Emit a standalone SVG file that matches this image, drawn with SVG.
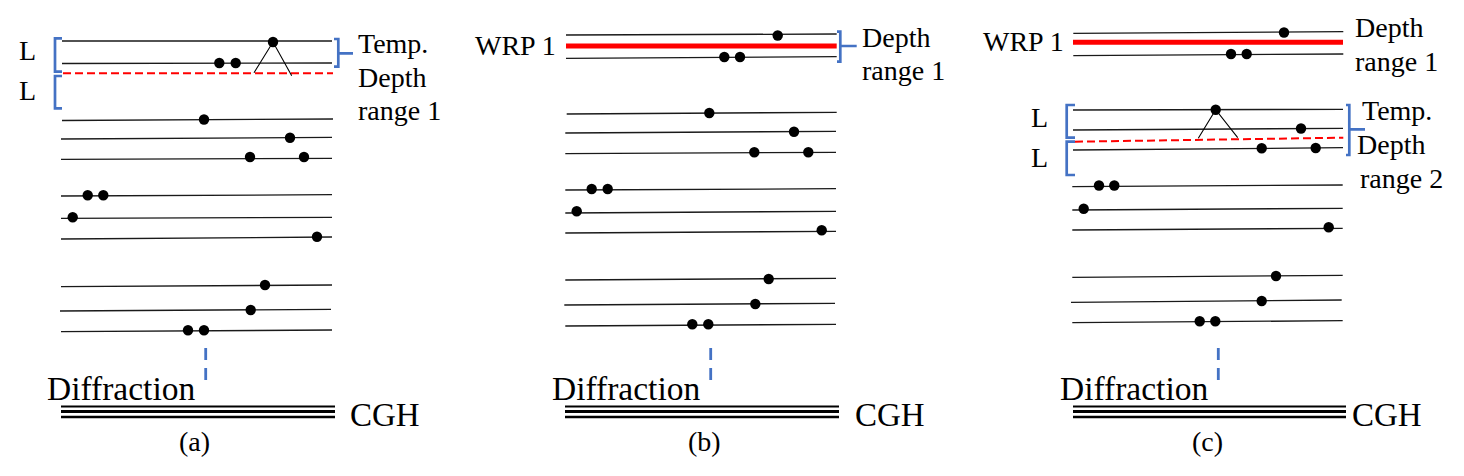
<svg xmlns="http://www.w3.org/2000/svg" width="1464" height="476" viewBox="0 0 1464 476">
<style>
.t{font-family:"Liberation Serif","Times New Roman",serif;font-size:28px;fill:#000}
.big{font-size:33.5px}
.cg{font-size:33px}
.ln{stroke:#1a1a1a;stroke-width:1.3;fill:none}
.tri{stroke:#000;stroke-width:1.1;fill:none}
.br{stroke:#4472C4;stroke-width:2.7;fill:none}
.vd{stroke:#4472C4;stroke-width:2.8;stroke-dasharray:12 8}
.rd{stroke:#FF0000;stroke-width:2;stroke-dasharray:8 4;fill:none}
.wrp{stroke:#FF0000;stroke-width:5}
.cgh{stroke:#000;fill:none}
.dot{fill:#000}
</style>
<rect width="1464" height="476" fill="#fff"/>

<g id="panel-a">
  <g id="a-lines">
    <path class="ln" d="M62 41H332M62 63.5L332 63M62 120.5L333 119M61 139L332 137.3M61 159.3L332 158.3M61 196L332 194.7M61 218.3L332 217.3M61 239L332 237M61 286.7L332 285M60 311L331 309.3M61 331.7L332 330"/>
    <path class="rd" d="M63 73.3H333"/>
    <path class="tri" d="M254 72.7L273 42L291.7 75.7"/>
  </g>
  <g id="a-dots" class="dot">
    <circle cx="273" cy="42" r="5.2"/><circle cx="219.3" cy="63" r="5.2"/><circle cx="235.7" cy="63" r="5.2"/>
    <circle cx="204" cy="119.5" r="5.2"/><circle cx="290" cy="137.7" r="5.2"/>
    <circle cx="250" cy="157" r="5.2"/><circle cx="304" cy="157" r="5.2"/>
    <circle cx="87.7" cy="195.3" r="5.2"/><circle cx="103.3" cy="195.3" r="5.2"/>
    <circle cx="72.7" cy="217.3" r="5.2"/><circle cx="317" cy="236.7" r="5.2"/>
    <circle cx="265" cy="285" r="5.2"/><circle cx="250.7" cy="310" r="5.2"/>
    <circle cx="188" cy="330.3" r="5.2"/><circle cx="204" cy="330.3" r="5.2"/>
  </g>
  <g id="a-brackets">
    <path class="br" d="M62 38.3H55V71.7H62M62 76H55V108.3H62M334 39H338.3V66.7H334M338.3 53.3H353"/>
  </g>
  <g id="a-cgh">
    <path class="cgh" stroke-width="2.2" d="M61 406.5H335"/>
    <path class="cgh" stroke-width="3.2" d="M61 411.5H335"/>
    <path class="cgh" stroke-width="2.5" d="M61 417H335"/>
    <path class="vd" d="M205.7 348V380"/>
  </g>
  <g id="a-text">
    <text class="t" x="19" y="60">L</text>
    <text class="t" x="19" y="100">L</text>
    <text class="t" x="358" y="53">Temp.</text>
    <text class="t" x="358" y="87">Depth</text>
    <text class="t" x="358" y="120">range 1</text>
    <text class="t big" x="47" y="400">Diffraction</text>
    <text class="t cg" x="350" y="426">CGH</text>
    <text class="t" x="179" y="451">(a)</text>
  </g>
</g>

<g id="panel-b">
  <g id="b-lines">
    <path class="ln" d="M566 35L836.7 34M566 58.3L836.7 56.7M566.7 114L836.7 112.3M565.3 133L836 131.3M565.3 153.7L836 152.3M565.3 190L836 188.7M565.3 213L836 211.3M565.3 233L836 231.3M565.3 280L836 278.3M564.3 305L835 303.3M565.3 326L836 324.3"/>
    <path class="wrp" d="M566 46H836.7"/>
  </g>
  <g id="b-dots" class="dot">
    <circle cx="777.7" cy="35.5" r="5.2"/><circle cx="724.3" cy="57" r="5.2"/><circle cx="740" cy="57" r="5.2"/>
    <circle cx="709.3" cy="113" r="5.2"/><circle cx="794" cy="131.7" r="5.2"/>
    <circle cx="754.3" cy="152.3" r="5.2"/><circle cx="808.3" cy="152.3" r="5.2"/>
    <circle cx="591.7" cy="189" r="5.2"/><circle cx="607.7" cy="189" r="5.2"/>
    <circle cx="576.7" cy="211.3" r="5.2"/><circle cx="821.7" cy="230.3" r="5.2"/>
    <circle cx="768.7" cy="279" r="5.2"/><circle cx="755.3" cy="304" r="5.2"/>
    <circle cx="692.3" cy="324.3" r="5.2"/><circle cx="708.3" cy="324.3" r="5.2"/>
  </g>
  <g id="b-brackets">
    <path class="br" d="M837 31.7H840.3V61.7H837M840.3 46H856.7"/>
  </g>
  <g id="b-cgh">
    <path class="cgh" stroke-width="2.2" d="M565 406.5H839"/>
    <path class="cgh" stroke-width="3.2" d="M565 411.5H839"/>
    <path class="cgh" stroke-width="2.5" d="M565 417H839"/>
    <path class="vd" d="M710.7 348V380"/>
  </g>
  <g id="b-text">
    <text class="t" x="475" y="55">WRP 1</text>
    <text class="t" x="862" y="47">Depth</text>
    <text class="t" x="862" y="80">range 1</text>
    <text class="t big" x="552" y="400">Diffraction</text>
    <text class="t cg" x="855" y="426">CGH</text>
    <text class="t" x="688" y="451">(b)</text>
  </g>
</g>

<g id="panel-c">
  <g id="c-lines">
    <path class="ln" d="M1073.3 33.3L1343.3 31.7M1073.3 55.7L1343.3 54M1073 110L1343 109.3M1073 130L1343 128.3M1073 150L1343 147.7M1072.3 186.7L1342.7 185M1072.3 210L1342.7 208.3M1072.3 230L1342.7 228.3M1072.3 277.3L1342.7 275.3M1071 302.3L1341.7 300M1072.3 322.7L1342.7 320.7"/>
    <path class="wrp" d="M1073 42.3H1343"/>
    <path class="rd" d="M1075 141.7L1343.3 137.7"/>
    <path class="tri" d="M1198.3 138.3L1215.7 109.7L1237.7 137.7"/>
  </g>
  <g id="c-dots" class="dot">
    <circle cx="1284" cy="32.5" r="5.2"/><circle cx="1231" cy="54" r="5.2"/><circle cx="1246.7" cy="54" r="5.2"/>
    <circle cx="1215.7" cy="109.7" r="5.2"/><circle cx="1301" cy="128.5" r="5.2"/>
    <circle cx="1261.7" cy="148.3" r="5.2"/><circle cx="1315.7" cy="148" r="5.2"/>
    <circle cx="1099" cy="185.5" r="5.2"/><circle cx="1114.3" cy="185.5" r="5.2"/>
    <circle cx="1083.7" cy="208.7" r="5.2"/><circle cx="1328.7" cy="227.3" r="5.2"/>
    <circle cx="1276" cy="276" r="5.2"/><circle cx="1261.7" cy="301" r="5.2"/>
    <circle cx="1199.7" cy="321.3" r="5.2"/><circle cx="1215.3" cy="321.3" r="5.2"/>
  </g>
  <g id="c-brackets">
    <path class="br" d="M1075 105H1066.7V137.7H1075M1075 141.7H1066.7V175H1075M1346 105H1349.3V155H1346M1349.3 129.3H1365"/>
  </g>
  <g id="c-cgh">
    <path class="cgh" stroke-width="2.2" d="M1073 406.5H1346"/>
    <path class="cgh" stroke-width="3.2" d="M1073 411.5H1346"/>
    <path class="cgh" stroke-width="2.5" d="M1073 417H1346"/>
    <path class="vd" d="M1218.3 348V380"/>
  </g>
  <g id="c-text">
    <text class="t" x="983" y="51">WRP 1</text>
    <text class="t" x="1355" y="37">Depth</text>
    <text class="t" x="1355" y="71">range 1</text>
    <text class="t" x="1031" y="127">L</text>
    <text class="t" x="1031" y="167">L</text>
    <text class="t" x="1362" y="120">Temp.</text>
    <text class="t" x="1357" y="154">Depth</text>
    <text class="t" x="1360" y="188">range 2</text>
    <text class="t big" x="1060" y="400">Diffraction</text>
    <text class="t cg" x="1352" y="426">CGH</text>
    <text class="t" x="1192" y="451">(c)</text>
  </g>
</g>
</svg>
